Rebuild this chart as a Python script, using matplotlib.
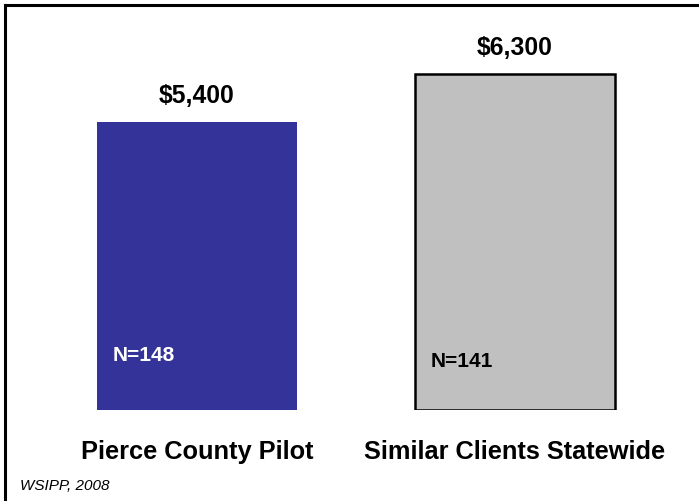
import numpy as np
import matplotlib.pyplot as plt
from matplotlib.lines import Line2D

plt.rcParams['font.family'] = ['Liberation Sans', 'DejaVu Sans']

# Данные
categories = ['Pierce County Pilot', 'Similar Clients Statewide']
costs = [5400, 6300]
value_labels = ['$5,400', '$6,300']
n_labels = ['N=148', 'N=141']
n_colors = ['white', 'black']
bar_colors = ['#333399', '#C0C0C0']
edge_colors = ['none', 'black']
source = 'WSIPP, 2008'

W, H = 699, 502
fig = plt.figure(figsize=(W / 100, H / 100), dpi=100)

# оси: нижняя граница столбцов на y=411 px
ax = fig.add_axes([0, (H - 411) / H, 1, 411 / H])
x = np.arange(len(categories))
width = 200 / 318
bars = ax.bar(x, costs, width=width, color=bar_colors,
              edgecolor=edge_colors, linewidth=1.8)
ax.set_xlim(-197 / 318, 1 + (W - 515) / 318)
ax.set_ylim(0, 411 / (336 / 6300))
ax.axis('off')

# подписи значений над столбцами
for xi, val, lab in zip(x, costs, value_labels):
    ax.annotate(lab, (xi, val), xytext=(0, 27), textcoords='offset pixels',
                ha='center', va='center', fontsize=17.8, fontweight='bold')

# N внутри столбцов
n_y = [356, 362]
for xi, lab, col, yy in zip(x, n_labels, n_colors, n_y):
    ax.annotate(lab, (xi - width / 2, 0), xytext=(16, 411 - yy),
                textcoords='offset pixels', ha='left', va='center',
                fontsize=15, fontweight='bold', color=col)

# подписи категорий
for xi, lab in zip(x, categories):
    ax.annotate(lab, (xi, 0), xytext=(0, -41), textcoords='offset pixels',
                ha='center', va='center', fontsize=18.3, fontweight='bold')

fig.text(20 / W, 1 - 486 / H, source, fontsize=11, style='italic',
         ha='left', va='center')

# рамка слева и сверху
fig.add_artist(Line2D([5 / W, 5 / W], [0, 1 - 6 / H], color='black', lw=2.2))
fig.add_artist(Line2D([5 / W, 1], [1 - 6 / H, 1 - 6 / H], color='black', lw=2.2))

fig.savefig('out.png', dpi=100)
